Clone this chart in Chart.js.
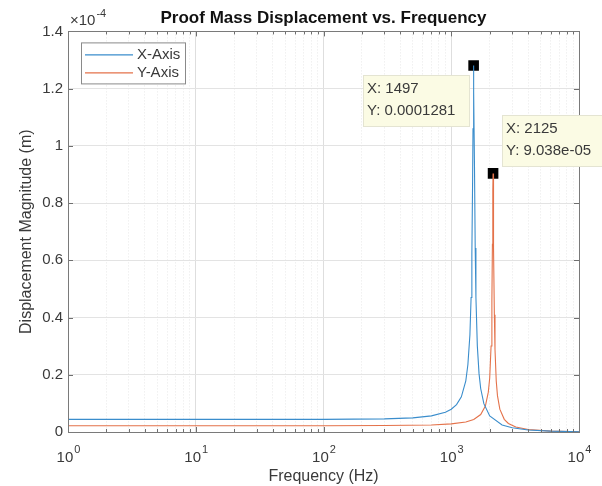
<!DOCTYPE html>
<html>
<head>
<meta charset="utf-8">
<script src="https://cdn.jsdelivr.net/npm/chart.js@4.4.1/dist/chart.umd.min.js"></script>
<style>
  html, body { margin: 0; padding: 0; background: #fff; }
  #wrap { width: 602px; height: 486px; }
</style>
</head>
<body>
<div id="wrap"><canvas id="disp"></canvas></div>
<script>
// values (metres), frequencies in Hz
const freqX = [1, 10, 100, 300, 500, 700, 900, 1000, 1100, 1200, 1300, 1350, 1400, 1430, 1450, 1470, 1480, 1490, 1497,
  1505, 1520, 1540, 1560, 1600, 1650, 1700, 1800, 2000, 2500, 3000, 4000, 6000, 10000];
const magX = [4.4e-6, 4.4e-6, 4.42e-6, 4.59e-6, 4.95e-6, 5.63e-6, 6.88e-6, 7.94e-6, 9.56e-6, 1.23e-5, 1.79e-5, 2.36e-5, 3.4e-5, 4.7e-5, 6.23e-5, 8.85e-5, 1.06e-4, 1.214e-4, 1.281e-4,
  1.19e-4, 9.3e-5, 6.43e-5, 4.71e-5, 3.01e-5, 2.04e-5, 1.52e-5, 9.9e-6, 5.6e-6, 2.46e-6, 1.46e-6, 7.1e-7, 2.9e-7, 1.0e-7];

const freqY = [1, 10, 100, 300, 700, 1000, 1300, 1500, 1700, 1850, 1950, 2000, 2050, 2080, 2100, 2115, 2125,
  2135, 2150, 2175, 2200, 2250, 2300, 2400, 2600, 2800, 3200, 4000, 6000, 10000];
const magY = [2.2e-6, 2.2e-6, 2.2e-6, 2.25e-6, 2.47e-6, 2.83e-6, 3.52e-6, 4.39e-6, 6.11e-6, 9.09e-6, 1.392e-5, 1.888e-5, 3.006e-5, 4.564e-5, 6.56e-5, 8.46e-5, 9.038e-5,
  8.4e-5, 6.44e-5, 4.1e-5, 2.89e-5, 1.78e-5, 1.27e-5, 7.98e-6, 4.43e-6, 2.99e-6, 1.74e-6, 8.7e-7, 3.2e-7, 1.0e-7];

const seriesNames = ['X-Axis', 'Y-Axis'];
const seriesColors = ['#3a8dcc', '#e4724a'];

const peakX = {x: 1497, y: 0.0001281};
const peakY = {x: 2125, y: 9.038e-05};
const tipX = ['X: 1497', 'Y: 0.0001281'];
const tipY = ['X: 2125', 'Y: 9.038e-05'];

const xDecades = [1, 10, 100, 1000, 10000];
const xExponents = ['0', '1', '2', '3', '4'];

const FONT = "'Liberation Sans', Arial, Helvetica, sans-serif";
const TXT = '#3a3a3a';

function isDecade(v) {
  const l = Math.log10(v);
  return Math.abs(l - Math.round(l)) < 1e-9;
}

// MATLAB-ish axes: box, inward ticks, superscript tick labels, legend, data tips
const matlabAxes = {
  id: 'matlabAxes',
  afterDatasetsDraw(chart) {
    const {ctx, chartArea: a, scales: {x, y}} = chart;
    ctx.save();

    // inward ticks
    ctx.strokeStyle = '#6f6f6f';
    ctx.lineWidth = 1;
    ctx.beginPath();
    x.ticks.forEach(t => {
      const px = Math.round(x.getPixelForValue(t.value)) + 0.5;
      const len = isDecade(t.value) ? 5 : 3;
      ctx.moveTo(px, a.bottom); ctx.lineTo(px, a.bottom - len);
      ctx.moveTo(px, a.top); ctx.lineTo(px, a.top + len);
    });
    y.ticks.forEach(t => {
      const py = Math.round(y.getPixelForValue(t.value)) + 0.5;
      ctx.moveTo(a.left, py); ctx.lineTo(a.left + 5, py);
      ctx.moveTo(a.right, py); ctx.lineTo(a.right - 5, py);
    });
    ctx.stroke();

    // box
    ctx.strokeStyle = '#7a7a7a';
    ctx.strokeRect(Math.round(a.left) + 0.5, Math.round(a.top) + 0.5,
      Math.round(a.right - a.left), Math.round(a.bottom - a.top));

    // x tick labels 10^n
    ctx.fillStyle = TXT;
    ctx.textBaseline = 'alphabetic';
    ctx.textAlign = 'left';
    xDecades.forEach((v, i) => {
      const px = x.getPixelForValue(v);
      ctx.font = '15px ' + FONT;
      const wb = ctx.measureText('10').width;
      ctx.font = '11px ' + FONT;
      const we = ctx.measureText(xExponents[i]).width;
      const x0 = px - (wb + we) / 2;
      ctx.font = '15px ' + FONT;
      ctx.fillText('10', x0, a.bottom + 30);
      ctx.font = '11px ' + FONT;
      ctx.fillText(xExponents[i], x0 + wb + 1, a.bottom + 21);
    });

    // exponent label
    ctx.font = '15px ' + FONT;
    ctx.fillText('\u00d710', a.left + 2, a.top - 6);
    const wx = ctx.measureText('\u00d710').width;
    ctx.font = '11px ' + FONT;
    ctx.fillText('-4', a.left + 3 + wx, a.top - 14);

    // legend
    const lx = a.left + 13, ly = a.top + 11;
    ctx.fillStyle = '#fff';
    ctx.fillRect(lx, ly, 104, 41);
    ctx.strokeStyle = '#8a8a8a';
    ctx.strokeRect(lx + 0.5, ly + 0.5, 104, 41);
    ctx.font = '15px ' + FONT;
    ctx.textBaseline = 'middle';
    seriesNames.forEach((n, i) => {
      const yy = ly + 12 + i * 18;
      ctx.strokeStyle = seriesColors[i];
      ctx.lineWidth = 1.1;
      ctx.beginPath();
      ctx.moveTo(lx + 4, yy + 0.5); ctx.lineTo(lx + 52, yy + 0.5);
      ctx.stroke();
      ctx.fillStyle = TXT;
      ctx.fillText(n, lx + 56, yy);
    });

    // data tips
    const tip = (pt, dx, dy, lines) => {
      const px = x.getPixelForValue(pt.x), py = y.getPixelForValue(pt.y);
      const bx = Math.round(px + dx), by = Math.round(py + dy);
      ctx.fillStyle = '#fbfbe4';
      ctx.fillRect(bx, by, 106, 51);
      ctx.strokeStyle = '#e4e4d2';
      ctx.lineWidth = 1;
      ctx.strokeRect(bx + 0.5, by + 0.5, 106, 51);
      ctx.fillStyle = TXT;
      ctx.font = '15px ' + FONT;
      lines.forEach((s, i) => ctx.fillText(s, bx + 4, by + 14 + i * 22));
    };
    tip(peakX, -111, 10, tipX);
    tip(peakY, 9, -58, tipY);

    ctx.restore();
  }
};

const ctx = document.getElementById('disp');
new Chart(ctx, {
  type: 'line',
  data: {
    datasets: [{
      label: seriesNames[0],
      data: freqX.map((f, i) => ({x: f, y: magX[i]})),
      borderColor: seriesColors[0],
      borderWidth: 1.1,
      pointRadius: 0,
      tension: 0
    }, {
      label: seriesNames[1],
      data: freqY.map((f, i) => ({x: f, y: magY[i]})),
      borderColor: seriesColors[1],
      borderWidth: 1.1,
      pointRadius: 0,
      tension: 0
    }, {
      label: 'peaks',
      data: [peakX, peakY],
      showLine: false,
      pointStyle: 'rect',
      pointRadius: 7.5,
      pointBackgroundColor: '#000',
      pointBorderColor: '#000',
      pointBorderWidth: 0
    }]
  },
  options: {
    responsive: true,
    maintainAspectRatio: false,
    animation: false,
    events: [],
    layout: {padding: {left: 0, right: 23, top: 0, bottom: 0}},
    scales: {
      x: {
        type: 'logarithmic',
        min: 1,
        max: 10000,
        afterBuildTicks: (scale) => {
          const t = [];
          xDecades.forEach(d => {
            if (d === 10000) { t.push({value: d}); return; }
            for (let k = 1; k <= 9; k++) t.push({value: d * k});
          });
          scale.ticks = t;
        },
        afterFit: (scale) => { scale.height = 54; },
        ticks: {display: false},
        grid: {
          drawTicks: false,
          color: (c) => isDecade(c.tick.value) ? '#dedede' : '#e8e8e8',
          lineWidth: 1
        },
        border: {
          display: false,
          dash: (c) => (c.tick && !isDecade(c.tick.value)) ? [1, 2] : []
        },
        title: {
          display: true,
          text: 'Frequency (Hz)',
          color: TXT,
          font: {family: FONT, size: 16},
          padding: {top: 0, bottom: 0}
        }
      },
      y: {
        min: 0,
        max: 1.4e-4,
        afterFit: (scale) => { scale.width = 68; },
        ticks: {
          stepSize: 2e-5,
          color: TXT,
          padding: 5,
          font: {family: FONT, size: 15},
          callback: (v) => String(parseFloat((v * 1e4).toFixed(1)))
        },
        grid: {drawTicks: false, color: '#e3e3e3'},
        border: {display: false},
        title: {
          display: true,
          text: 'Displacement Magnitude (m)',
          color: TXT,
          font: {family: FONT, size: 16},
          padding: {top: 17, bottom: 0}
        }
      }
    },
    plugins: {
      legend: {display: false},
      tooltip: {enabled: false},
      title: {
        display: true,
        fullSize: false,
        text: 'Proof Mass Displacement vs. Frequency',
        color: '#111',
        font: {family: FONT, size: 17, weight: 'bold'},
        padding: {top: 8, bottom: 3}
      }
    }
  },
  plugins: [matlabAxes]
});
</script>
</body>
</html>
